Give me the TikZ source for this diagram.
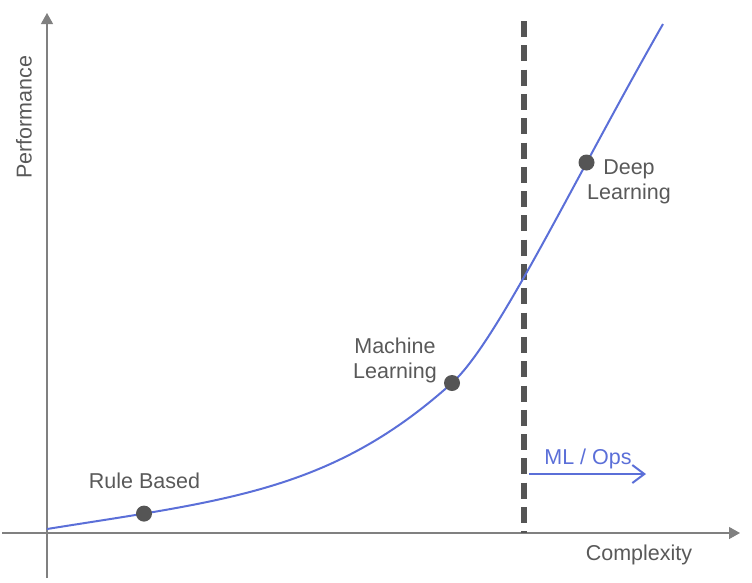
\documentclass[tikz,border=0pt]{standalone}
\usepackage{fontspec}
\setmainfont{Liberation Sans}
\usetikzlibrary{arrows.meta}
\definecolor{axisgray}{HTML}{808080}
\definecolor{txtgray}{HTML}{595959}
\definecolor{dotgray}{HTML}{555555}
\definecolor{curveblue}{HTML}{5B6FD8}
\tikzset{
  axis/.style={draw=axisgray, line width=1.3pt, -{Triangle[length=11pt,width=12pt]}},
  lbl/.style={text=txtgray, font=\fontsize{21.5}{25}\selectfont, inner sep=0pt, align=center},
  dot/.style={circle, fill=dotgray, minimum size=16pt, inner sep=0pt},
  curve/.style={draw=curveblue, line width=2pt},
  divider/.style={draw=dotgray, line width=6pt, dash pattern=on 16pt off 8.3pt},
  opsarrow/.style={draw=curveblue, line width=2pt, -{Straight Barb[length=12pt,width=18pt]}}
}
\begin{document}
\begin{tikzpicture}[x={(1pt,0)}, y={(0,-1pt)}]
\useasboundingbox (0,0) rectangle (752,582);
% axes
\coordinate (xs) at (2,533);
\coordinate (xe) at (740,533);
\coordinate (ys) at (47,578);
\coordinate (ye) at (47,13);
\draw[axis] (xs) -- (xe);
\draw[axis] (ys) -- (ye);
% divider
\coordinate (dtop) at (524,21);
\coordinate (dbot) at (524,533);
\draw[divider] (dtop) -- (dbot);
% curve
\coordinate (c0) at (47,529);
\coordinate (c1) at (452,383);
\coordinate (c2) at (663,24);
\draw[curve] (c0) .. controls (227,500.2) and (332,491) .. (c1)
                  .. controls (497,342.5) and (573,181.5) .. (c2);
% dots
\node[dot] (rb) at (144,513.6) {};
\node[dot] (ml) at (c1) {};
\node[dot] (dl) at (586.5,162.5) {};
% labels
\node[lbl] (perf) at (24,117) {\rotatebox{90}{Performance}};
\node[lbl] (cplx) at (639,555) {Complexity};
\node[lbl] (rbl) at (144.5,481) {Rule Based};
\node[lbl] (mll) at (395,360) {Machine\\Learning};
\node[lbl] (dll) at (629,182) {Deep\\Learning};
\node[lbl, text=curveblue] (ops) at (588,459) {ML / Ops};
% ops arrow
\coordinate (oa) at (529,474);
\coordinate (ob) at (646,474);
\draw[opsarrow] (oa) -- (ob);
\end{tikzpicture}
\end{document}
